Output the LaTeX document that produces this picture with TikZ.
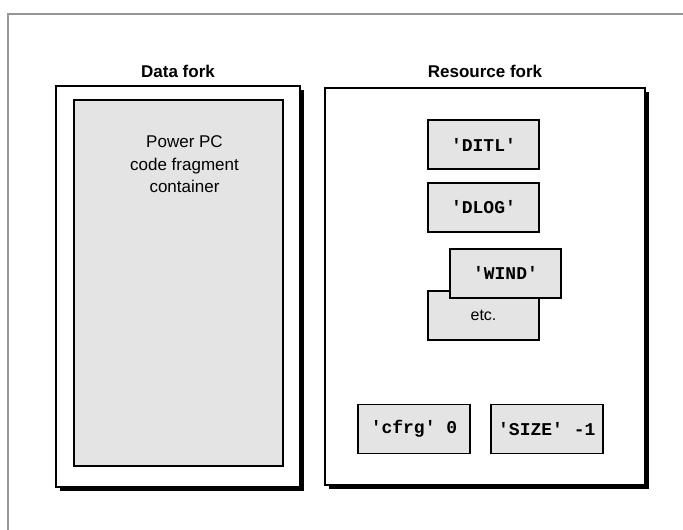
\documentclass[tikz,border=0pt]{standalone}
\usepackage{fontspec}
\setmainfont{Liberation Sans}
\setmonofont{Liberation Mono}
\usetikzlibrary{positioning, shadows}
\definecolor{boxgray}{RGB}{228,228,228}
\definecolor{framegray}{RGB}{150,150,150}
\tikzset{
  forkbox/.style={rectangle, draw=black, line width=1.6pt, fill=white,
              drop shadow={shadow xshift=4pt, shadow yshift=-4pt, fill=black, opacity=1}},
  fragbox/.style={rectangle, draw=black, line width=1.6pt, fill=boxgray},
  resbox/.style={rectangle, draw=black, line width=1.8pt, fill=boxgray, inner sep=1pt,
              minimum width=111pt, minimum height=49pt, font=\fontsize{18}{20}\selectfont\ttfamily\bfseries},
  forktitle/.style={font=\fontsize{17}{20}\selectfont\bfseries},
}
\begin{document}
\begin{tikzpicture}[x=1pt, y=-1pt, node distance=12pt]
    \useasboundingbox (0,0) rectangle (683,530);
    \draw[framegray, line width=1.5pt] (8,530) -- (8,14) -- (683,14);

    % data fork
    \node[forkbox, minimum width=244pt, minimum height=401pt] (data) at (178,286.5) {};
    \node[fragbox, minimum width=209pt, minimum height=366pt] (frag) at (178.5,283) {};
    \node[below=33pt of frag.north, xshift=6pt, align=center, font=\fontsize{17}{22.5}\selectfont]
        (fragtext) {Power PC\\ code fragment\\ container};
    \node[forktitle, above=4pt of data] (datatitle) {Data fork};

    % resource fork
    \node[forkbox, minimum width=320pt, minimum height=397pt] (res) at (485,286.5) {};
    \node[forktitle, above=6pt of res] (restitle) {Resource fork};

    \node[resbox] (ditl) at (483.5,144.5) {'DITL'};
    \node[resbox, below=of ditl] (dlog) {'DLOG'};
    \node[resbox, below=57pt of dlog, font=\fontsize{16}{18}\selectfont] (etc) {etc.};
    \node[resbox, below=15pt of dlog, xshift=22pt] (wind) {'WIND'};

    \node[resbox, minimum width=112pt] (cfrg) at (414,429) {'cfrg' 0};
    \node[resbox, minimum width=112pt, right=19pt of cfrg] (size) {'SIZE' -1};
  \end{tikzpicture}
\end{document}
